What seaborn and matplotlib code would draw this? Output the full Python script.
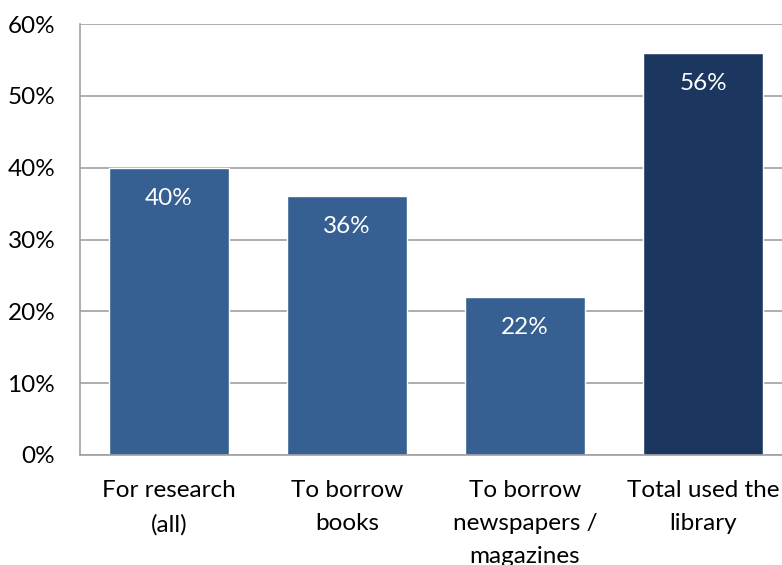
import matplotlib
matplotlib.use("Agg")
import matplotlib.pyplot as plt
import seaborn as sns
import pandas as pd
from matplotlib.ticker import FixedLocator, PercentFormatter

categories = ["For research\n(all)", "To borrow\nbooks", "To borrow\nnewspapers /\nmagazines", "Total used the\nlibrary"]
values = [40, 36, 22, 56]
bar_colors = ["#376092", "#376092", "#376092", "#1B3760"]
y_ticks = [0, 10, 20, 30, 40, 50, 60]

sns.set_style("white")
plt.rcParams["font.family"] = ["Lato", "DejaVu Sans"]

df = pd.DataFrame({"category": categories, "value": values})

fig = plt.figure(figsize=(7.82, 5.65), dpi=100)
ax = fig.add_axes([0.1023, 0.1947, 0.9105, 0.7628])

sns.barplot(data=df, x="category", y="value", hue="category", palette=bar_colors,
            width=0.674, legend=False, saturation=1, ax=ax)

grid_col = "#A0A0A0"
ax.set_xlim(-0.5, 3.5)
ax.set_ylim(0, 60)
ax.set_yticks(y_ticks)
ax.yaxis.set_major_formatter(PercentFormatter(decimals=0))
ax.yaxis.grid(True, color=grid_col, linewidth=1.2)
ax.set_axisbelow(True)

for s in ["top", "right"]:
    ax.spines[s].set_visible(False)
for s in ["left", "bottom"]:
    ax.spines[s].set_color(grid_col)
    ax.spines[s].set_linewidth(1.2)

# category labels drawn as text so the line spacing can be set
ax.set_xticks(range(len(categories)), [""] * len(categories))
ax.tick_params(axis="y", length=5.8, width=1.2, color=grid_col, pad=12, labelsize=17.5, labelcolor="black")
ax.tick_params(axis="x", which="major", length=0)
ax.xaxis.set_minor_locator(FixedLocator([-0.5, 0.5, 1.5, 2.5]))
ax.tick_params(axis="x", which="minor", length=5.8, width=1.2, color=grid_col, direction="out")
for i, cat in enumerate(categories):
    ax.annotate(cat, xy=(i, 0), xycoords=ax.get_xaxis_transform(), xytext=(0, -18),
                textcoords="offset points", ha="center", va="top", fontsize=17.5,
                linespacing=1.72, color="black", annotation_clip=False)

ax.set_xlabel("")
ax.set_ylabel("")

for i, v in enumerate(values):
    ax.annotate(f"{v}%", xy=(i, v), xytext=(0, -22), textcoords="offset points",
                ha="center", va="center", color="white", fontsize=17.5)

fig.savefig("out.png", dpi=100)
